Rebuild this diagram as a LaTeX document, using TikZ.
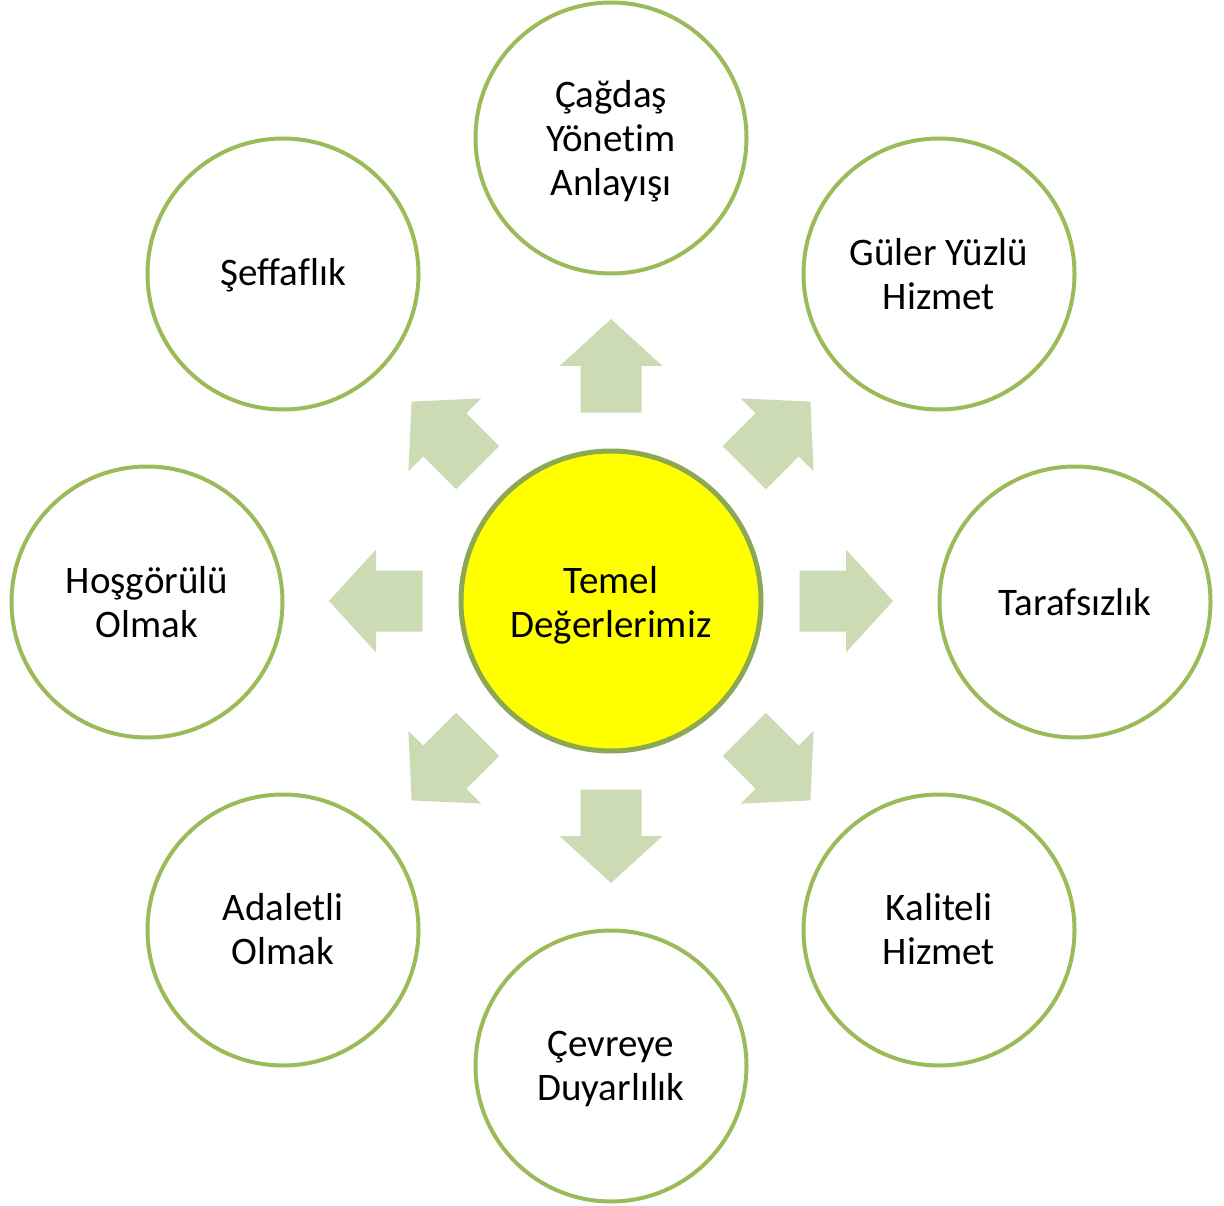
\documentclass[tikz,border=0pt]{standalone}
\usepackage{fontspec}
\setmainfont[Ligatures={NoCommon}]{Carlito}
\definecolor{ringgreen}{RGB}{155,187,89}
\definecolor{coregreen}{RGB}{140,168,85}
\definecolor{arrowgreen}{RGB}{205,219,181}
\definecolor{coreyellow}{RGB}{255,255,0}
\begin{document}
\begin{tikzpicture}[x=1pt,y=-1pt,
  valuecircle/.style={circle,draw=ringgreen,line width=4pt,fill=white,minimum size=271pt,inner sep=0pt},
  corecircle/.style={circle,draw=coregreen,line width=5pt,fill=coreyellow,minimum size=300pt,inner sep=0pt},
  valuetext/.style={inner sep=0pt,align=center,font=\fontsize{39}{44}\selectfont},
  blockarrow/.style={fill=arrowgreen}]
\useasboundingbox (0,0) rectangle (1224,1206);
\node[corecircle] (core) at (611,601) {};
\node[valuecircle] (n) at (611,138) {};
\node[valuecircle] (ne) at (939,274) {};
\node[valuecircle] (e) at (1075,602) {};
\node[valuecircle] (se) at (939,930) {};
\node[valuecircle] (s) at (611,1066) {};
\node[valuecircle] (sw) at (283,930) {};
\node[valuecircle] (w) at (147,602) {};
\node[valuecircle] (nw) at (283,274) {};
\node[valuetext] (core-t) at ([yshift=-4pt]core.center) {Temel\\Değerlerimiz};
\node[valuetext] (n-t) at ([yshift=-3pt]n.center) {Çağdaş\\Yönetim\\Anlayışı};
\node[valuetext] (ne-t) at (ne.center) {Güler Yüzlü\\Hizmet};
\node[valuetext] (e-t) at (e.center) {Tarafsızlık};
\node[valuetext] (se-t) at ([yshift=0.5pt]se.center) {Kaliteli\\Hizmet};
\node[valuetext] (s-t) at ([yshift=-3pt]s.center) {Çevreye\\Duyarlılık};
\node[valuetext] (sw-t) at ([yshift=0.5pt]sw.center) {Adaletli\\Olmak};
\node[valuetext] (w-t) at (w.center) {Hoşgörülü\\Olmak};
\node[valuetext] (nw-t) at ([yshift=-1pt]nw.center) {Şeffaflık};
\foreach \ang in {0,45,...,315}{
  \begin{scope}[shift={(core.center)},rotate=\ang]
    \fill[blockarrow] (188.5,-30.5) -- (235,-30.5) -- (235,-51.5) -- (282,0) -- (235,51.5) -- (235,30.5) -- (188.5,30.5) -- cycle;
  \end{scope}
}
\end{tikzpicture}
\end{document}
